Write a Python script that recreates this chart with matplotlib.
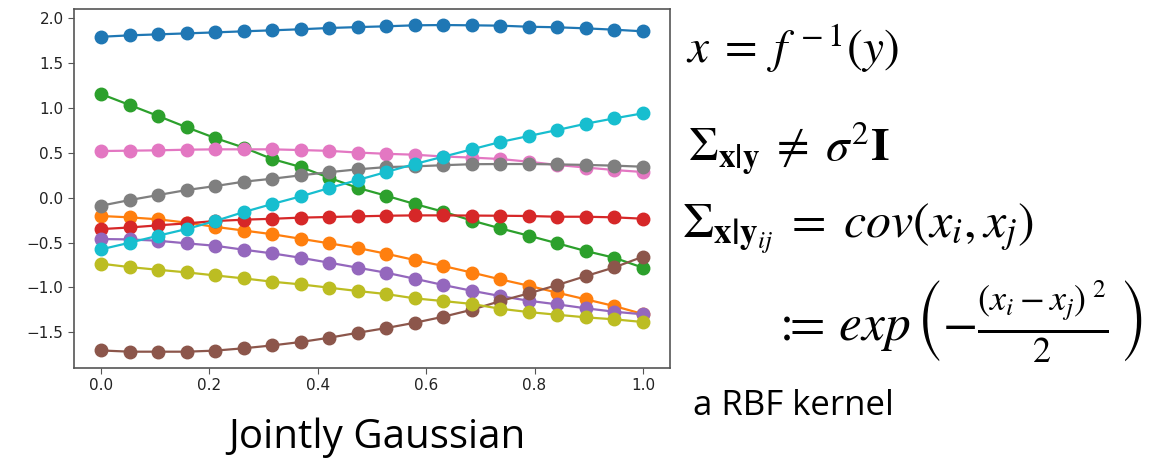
import matplotlib
matplotlib.use('Agg')
import matplotlib.pyplot as plt
import numpy as np

plt.rcParams['mathtext.fontset'] = 'stix'

W, H = 1176, 459

# 20 sample locations on [0, 1]
x_vals = np.linspace(0, 1, 20)

s_blue = [1.796, 1.812, 1.823, 1.834, 1.845, 1.857, 1.868, 1.880, 1.894, 1.904,
          1.913, 1.924, 1.927, 1.924, 1.920, 1.908, 1.902, 1.890, 1.875, 1.857]
s_orange = [-0.204, -0.219, -0.241, -0.278, -0.325, -0.366, -0.407, -0.458, -0.509, -0.561,
            -0.625, -0.695, -0.762, -0.835, -0.911, -0.982, -1.060, -1.134, -1.209, -1.298]
s_green = [1.157, 1.035, 0.912, 0.786, 0.666, 0.560, 0.432, 0.343, 0.222, 0.110,
           0.022, -0.070, -0.156, -0.255, -0.342, -0.424, -0.509, -0.595, -0.670, -0.781]
s_red = [-0.350, -0.332, -0.308, -0.286, -0.260, -0.245, -0.235, -0.222, -0.215, -0.208,
         -0.201, -0.197, -0.197, -0.199, -0.201, -0.204, -0.212, -0.212, -0.219, -0.234]
s_purple = [-0.461, -0.465, -0.480, -0.509, -0.536, -0.580, -0.621, -0.670, -0.725, -0.781,
            -0.837, -0.904, -0.974, -1.038, -1.097, -1.150, -1.190, -1.234, -1.272, -1.301]
s_brown = [-1.704, -1.718, -1.718, -1.718, -1.706, -1.680, -1.648, -1.610, -1.562, -1.507,
           -1.454, -1.395, -1.328, -1.250, -1.153, -1.067, -0.974, -0.874, -0.777, -0.658]
s_pink = [0.521, 0.525, 0.529, 0.536, 0.540, 0.540, 0.540, 0.532, 0.523, 0.504,
          0.490, 0.480, 0.460, 0.448, 0.432, 0.402, 0.365, 0.337, 0.309, 0.287]
s_gray = [-0.089, -0.026, 0.030, 0.086, 0.130, 0.179, 0.212, 0.250, 0.285, 0.317,
          0.342, 0.350, 0.363, 0.374, 0.376, 0.376, 0.372, 0.366, 0.358, 0.346]
s_olive = [-0.736, -0.774, -0.804, -0.833, -0.867, -0.900, -0.937, -0.967, -1.004, -1.041,
           -1.075, -1.123, -1.153, -1.185, -1.239, -1.276, -1.306, -1.335, -1.357, -1.387]
s_cyan = [-0.576, -0.502, -0.424, -0.349, -0.260, -0.160, -0.070, 0.015, 0.108, 0.198,
          0.287, 0.376, 0.458, 0.540, 0.622, 0.689, 0.756, 0.826, 0.886, 0.942]

samples = [s_blue, s_orange, s_green, s_red, s_purple,
           s_brown, s_pink, s_gray, s_olive, s_cyan]

x_ticks = [0.0, 0.2, 0.4, 0.6, 0.8, 1.0]
y_ticks = [-1.5, -1.0, -0.5, 0.0, 0.5, 1.0, 1.5, 2.0]


def fx(px):
    return px / W


def fy(py):
    return 1 - py / H


fig = plt.figure(figsize=(W / 100, H / 100), dpi=100)
ax = fig.add_axes([fx(74), fy(368), (670 - 74) / W, (368 - 9) / H])

for s in samples:
    ax.plot(x_vals, s, '-o', linewidth=1.6, markersize=9)

ax.set_xlim(-0.05, 1.05)
ax.set_ylim(-1.90, 2.106)
ax.set_xticks(x_ticks)
ax.set_yticks(y_ticks)
for sp in ax.spines.values():
    sp.set_color('#555555')
    sp.set_linewidth(1.2)
ax.tick_params(labelsize=11, colors='#555555', labelcolor='#222222', length=4)

# captions and formulas
fig.text(fx(377), fy(448), 'Jointly Gaussian', ha='center', va='baseline',
         fontsize=29, family='Open Sans', color='black')
fig.text(fx(693), fy(415), 'a RBF kernel', ha='left', va='baseline',
         fontsize=25, family='Open Sans', color='black')

fig.text(fx(686), fy(63), r'$x\;=\;f^{\,-1}(y)$', ha='left', va='baseline',
         fontsize=34, color='black')
fig.text(fx(688), fy(162), r'$\Sigma_{\mathbf{x|y}}\;\neq\;\sigma^{2}\mathbf{I}$',
         ha='left', va='baseline', fontsize=34, color='black')
fig.text(fx(682), fy(238), r'$\Sigma_{\mathbf{x|y}_{ij}}\;=\;cov(x_i,x_j)$',
         ha='left', va='baseline', fontsize=36, color='black')
fig.text(fx(772), fy(340),
         r'${:}\!\!\!=\,exp\,\left(-\frac{(x_i-x_j)^{\ 2}}{2}\,\right)$',
         ha='left', va='baseline', fontsize=37, color='black')

fig.savefig('out.png', dpi=100, facecolor='white')
